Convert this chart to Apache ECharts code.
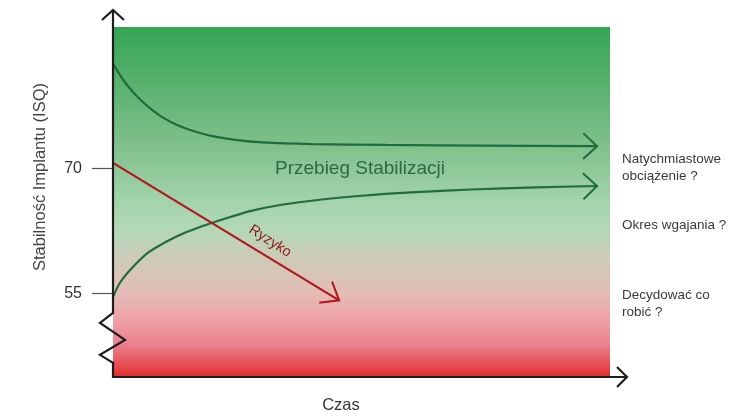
<!DOCTYPE html>
<html><head><meta charset="utf-8">
<script src="https://cdn.jsdelivr.net/npm/echarts@6/dist/echarts.min.js"></script>
<style>html,body{margin:0;padding:0;background:#fff}#c{width:739px;height:417px}</style>
</head><body><div id="c"></div>
<script>
// ---- data (time in % of x range, stability in ISQ) ----
const timeUpper = [0, 2, 4, 6, 8, 10, 13, 16, 20, 25, 30, 40, 55, 75, 97.4];
const isqUpper  = [82.6, 80.7, 79.2, 78.0, 77.0, 76.15, 75.2, 74.55, 73.9, 73.42, 73.15, 72.95, 72.85, 72.77, 72.7];
const timeLower = [0, 1.5, 4, 7, 10.9, 14, 17.5, 22, 27.6, 34.2, 42, 50, 60, 72, 85, 97.4];
const isqLower  = [54.6, 56.4, 58.2, 59.9, 61.3, 62.2, 63.0, 63.9, 64.9, 65.7, 66.3, 66.75, 67.15, 67.5, 67.75, 67.92];
const timeRisk  = [0, 45.5];
const isqRisk   = [70.7, 54.2];
const yTickValues = [55, 70];
const yRange = [45, 87];
const xRange = [0, 100];
const axisBreak = [46.7, 52.7];   // ISQ span replaced by the zigzag
const yAxisTitle = 'Stabilność Implantu (ISQ)';
const xAxisTitle = 'Czas';
const curveLabel = 'Przebieg Stabilizacji';
const riskLabel = 'Ryzyko';
const sideNotes = ['Natychmiastowe\nobciążenie ?', 'Okres wgajania ?', 'Decydować co\nrobić ?'];

const FONT = '"Liberation Sans", Arial, sans-serif';
const GREEN = '#226b3d', RED = '#b3161d', AXIS = '#1e1e1e';

function zip(a, b) { return a.map((v, i) => [v, b[i]]); }
const upper = zip(timeUpper, isqUpper);
const lower = zip(timeLower, isqLower);
const risk = zip(timeRisk, isqRisk);
function tail(d) { const n = d.length; return [d[n-1][0], d[n-1][1], d[n-2][0], d[n-2][1]]; }
const arrowStyles = [
  {len: 19, angle: 43, color: GREEN, width: 2},
  {len: 19, angle: 43, color: GREEN, width: 2},
  {len: 20, angle: 38, color: RED, width: 2}
];

const chart = echarts.init(document.getElementById('c'), null, {renderer: 'canvas'});
chart.setOption({
  animation: false,
  grid: {
    left: 113, right: 129, top: 27, bottom: 40, show: true, borderWidth: 0,
    backgroundColor: new echarts.graphic.LinearGradient(0, 0, 0, 1, [
      {offset: 0, color: '#34a553'},
      {offset: 0.32, color: '#7cbe89'},
      {offset: 0.5, color: '#a3d3ab'},
      {offset: 0.58, color: '#b3d8b6'},
      {offset: 0.66, color: '#cdcbb8'},
      {offset: 0.76, color: '#e3bdb5'},
      {offset: 0.84, color: '#efa0a7'},
      {offset: 0.91, color: '#e97f8c'},
      {offset: 0.97, color: '#e44a4e'},
      {offset: 1, color: '#e12b2b'}
    ])
  },
  xAxis: {
    type: 'value', min: xRange[0], max: xRange[1],
    axisLine: {show: false}, axisTick: {show: false}, axisLabel: {show: false}, splitLine: {show: false}
  },
  yAxis: {
    type: 'value', min: yRange[0], max: yRange[1],
    axisLine: {show: false}, splitLine: {show: false},
    axisTick: {show: true, customValues: yTickValues, length: 21, lineStyle: {color: '#555', width: 1.2}},
    axisLabel: {show: true, customValues: yTickValues, margin: 31, color: '#333', fontSize: 16, fontFamily: FONT}
  },
  series: [
    {type: 'line', data: upper, smooth: 0.3, showSymbol: false,
     lineStyle: {color: GREEN, width: 2.2}, z: 3},
    {type: 'line', data: lower, smooth: 0.3, showSymbol: false,
     lineStyle: {color: GREEN, width: 2.2}, z: 3},
    {type: 'line', data: risk, showSymbol: false, lineStyle: {color: RED, width: 2.2}, z: 4},
    {type: 'custom', data: [tail(upper), tail(lower), tail(risk)], clip: false, z: 5,
     encode: {x: 0, y: 1},
     renderItem: function (params, api) {
       const p = api.coord([api.value(0), api.value(1)]);
       const q = api.coord([api.value(2), api.value(3)]);
       const st = arrowStyles[params.dataIndex];
       let dx = q[0] - p[0], dy = q[1] - p[1];
       const n = Math.hypot(dx, dy); dx /= n; dy /= n;
       const a = st.angle * Math.PI / 180;
       const pt = ang => [p[0] + st.len * (dx * Math.cos(ang) - dy * Math.sin(ang)),
                          p[1] + st.len * (dx * Math.sin(ang) + dy * Math.cos(ang))];
       return {type: 'polyline', shape: {points: [pt(a), p, pt(-a)]},
               style: {stroke: st.color, lineWidth: st.width, fill: null}};
     }}
  ]
});

// ---- axes with open arrowheads and broken y axis, plus annotations ----
const o = chart.convertToPixel({gridIndex: 0}, [xRange[0], yRange[0]]);
const tr = chart.convertToPixel({gridIndex: 0}, [xRange[1], yRange[1]]);
const bTop = chart.convertToPixel({gridIndex: 0}, [0, axisBreak[1]])[1];
const bBot = chart.convertToPixel({gridIndex: 0}, [0, axisBreak[0]])[1];
const bh = bBot - bTop;
const x0 = o[0], y0 = o[1];
const yTopEnd = tr[1] - 17, xRightEnd = tr[0] + 17;
const ls = {stroke: AXIS, lineWidth: 2.2, fill: null};
function txt(x, y, text, opt) {
  return Object.assign({type: 'text', x: x, y: y, z: 20,
    style: Object.assign({text: text, fontFamily: FONT, fill: '#333'}, opt.style || {})},
    opt.rotation !== undefined ? {rotation: opt.rotation} : {});
}
const riskAnchor = chart.convertToPixel({gridIndex: 0}, [31.6, 61.3]);
const labelAnchor = chart.convertToPixel({gridIndex: 0}, [49.7, 70.0]);
chart.setOption({
  graphic: [
    {type: 'polyline', z: 10, shape: {points: [[x0, yTopEnd], [x0, bTop], [x0 - 13, bTop + 0.2 * bh],
      [x0 + 12, bTop + 0.54 * bh], [x0 - 13, bTop + 0.84 * bh], [x0, bBot], [x0, y0 + 1]]}, style: ls},
    {type: 'polyline', z: 10, shape: {points: [[x0 - 11, yTopEnd + 10], [x0, yTopEnd], [x0 + 11, yTopEnd + 10]]}, style: ls},
    {type: 'polyline', z: 10, shape: {points: [[x0 - 1, y0], [xRightEnd, y0]]}, style: ls},
    {type: 'polyline', z: 10, shape: {points: [[xRightEnd - 10, y0 - 10], [xRightEnd, y0], [xRightEnd - 10, y0 + 10]]}, style: ls},
    txt(40, 177, yAxisTitle, {rotation: Math.PI / 2, style: {fontSize: 16.5, fill: '#444', align: 'center', verticalAlign: 'middle'}}),
    txt(341, 405, xAxisTitle, {style: {fontSize: 16.5, fill: '#333', align: 'center', verticalAlign: 'middle'}}),
    txt(labelAnchor[0], labelAnchor[1], curveLabel, {style: {fontSize: 19, fill: '#2b6a43', align: 'center', verticalAlign: 'middle'}}),
    {type: 'text', x: riskAnchor[0], y: riskAnchor[1], rotation: -0.57, z: 20,
     style: {text: riskLabel, fontFamily: FONT, fontSize: 14.5, fill: '#8e1b1b', align: 'center', verticalAlign: 'middle'}},
    txt(622, 168, sideNotes[0], {style: {fontSize: 13.5, lineHeight: 17, fill: '#3a3a3a', verticalAlign: 'middle'}}),
    txt(622, 225, sideNotes[1], {style: {fontSize: 13.5, lineHeight: 17, fill: '#3a3a3a', verticalAlign: 'middle'}}),
    txt(622, 304, sideNotes[2], {style: {fontSize: 13.5, lineHeight: 17, fill: '#3a3a3a', verticalAlign: 'middle'}})
  ]
});
</script>
</body></html>
